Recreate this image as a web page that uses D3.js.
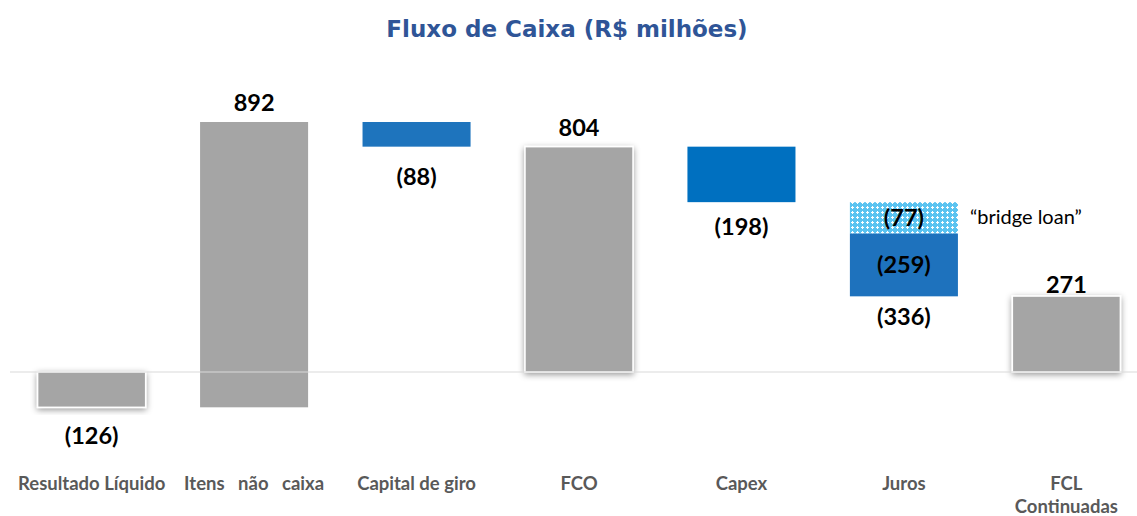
<!DOCTYPE html>
<html>
<head>
<meta charset="utf-8">
<script src="https://cdn.jsdelivr.net/npm/d3@7.9.0/dist/d3.min.js"></script>
<style>
  body { margin: 0; background: #fff; }
</style>
</head>
<body>
<div id="chart"></div>
<script>
// categories and values (R$ milhões)
const categories = ["Resultado Líquido", "Itens não caixa", "Capital de giro", "FCO", "Capex", "Juros", "FCL Continuadas"];
const values = [-126, 892, -88, 804, -198, -336, 271];
const barType = ["total", "step", "step", "total", "step", "step", "total"];
const valueLabels = ["(126)", "892", "(88)", "804", "(198)", "(336)", "271"];
// Juros split as drawn: bridge loan part and the rest
const jurosParts = [112, 224];
const jurosLabels = ["(77)", "(259)"];

const W = 1137, H = 516;
const svg = d3.select("#chart").append("svg")
    .attr("width", W).attr("height", H);

const defs = svg.append("defs");
const shadow = defs.append("filter").attr("id", "shadow")
    .attr("x", "-20%").attr("y", "-20%").attr("width", "140%").attr("height", "140%");
shadow.append("feDropShadow").attr("dx", 0).attr("dy", 2).attr("stdDeviation", 3)
    .attr("flood-color", "#000").attr("flood-opacity", 0.4);

const pat = defs.append("pattern").attr("id", "hatch")
    .attr("patternUnits", "userSpaceOnUse").attr("width", 5).attr("height", 5);
pat.append("rect").attr("width", 5).attr("height", 5).attr("fill", "#5ac3f0");
pat.append("rect").attr("x", 1).attr("y", 2).attr("width", 3).attr("height", 1).attr("fill", "#fff");
pat.append("rect").attr("x", 2).attr("y", 1).attr("width", 1).attr("height", 3).attr("fill", "#fff");

// waterfall spans as they are drawn in the picture
let running = 0;
const bars = categories.map((c, i) => {
  const v = values[i];
  let y0, y1;
  if (barType[i] === "total") {
    y0 = 0; y1 = v; running = v;
  } else if (i === 1) {
    // starts from the bottom of "Resultado Líquido"
    y0 = values[0]; y1 = v; running = v;
  } else {
    y0 = running; y1 = running + v; running = running + v;
  }
  return {cat: c, v, y0, y1, i};
});

const x = d3.scaleBand().domain(categories).range([10, 1148]).paddingInner(0.335).paddingOuter(0.17);
const y = d3.scaleLinear().domain([0, 892]).range([372, 122]);

const colors = ["#a5a5a5", "#a5a5a5", "#1e74bd", "#a5a5a5", "#0070c0", "#1e72bd", "#a5a5a5"];
// label nudges (px) relative to bar edge
const labelGap = [37, 11, 38, 11, 33, 29, 3];

// title
svg.append("text")
    .attr("x", 567).attr("y", 37)
    .attr("text-anchor", "middle")
    .style("font-family", "'DejaVu Sans', sans-serif")
    .style("font-weight", "bold")
    .style("font-size", "23px")
    .style("fill", "#2f5597")
    .text("Fluxo de Caixa (R$ milhões)");

const g = svg.append("g");

bars.forEach(d => {
  const top = y(Math.max(d.y0, d.y1));
  const bot = y(Math.min(d.y0, d.y1));
  if (d.cat === "Juros") {
    const yTop = y(d.y0);
    const yMid = y(d.y0 - jurosParts[0]);
    const yBot = y(d.y0 - jurosParts[0] - jurosParts[1]);
    g.append("rect").attr("x", x(d.cat)).attr("width", x.bandwidth())
        .attr("y", yTop).attr("height", yMid - yTop).attr("fill", "url(#hatch)");
    g.append("rect").attr("x", x(d.cat)).attr("width", x.bandwidth())
        .attr("y", yMid).attr("height", yBot - yMid).attr("fill", colors[d.i]);
    return;
  }
  const r = g.append("rect").attr("x", x(d.cat)).attr("width", x.bandwidth())
      .attr("y", top).attr("height", bot - top).attr("fill", colors[d.i]);
  if (barType[d.i] === "total") {
    r.attr("stroke", "#fff").attr("stroke-width", 1.5).attr("filter", "url(#shadow)");
  }
});

// baseline
svg.append("line").attr("x1", 10).attr("x2", W).attr("y1", y(0)).attr("y2", y(0))
    .attr("stroke", "#d9d9d9").attr("stroke-width", 1.2);

// value labels
const lab = svg.append("g")
    .style("font-family", "Lato, 'Open Sans', sans-serif")
    .style("font-weight", "bold")
    .style("font-size", "23.5px")
    .style("fill", "#000")
    .attr("text-anchor", "middle");

bars.forEach(d => {
  const cx = x(d.cat) + x.bandwidth() / 2;
  const top = y(Math.max(d.y0, d.y1));
  const bot = y(Math.min(d.y0, d.y1));
  const ly = d.v >= 0 ? top - labelGap[d.i] : bot + labelGap[d.i];
  lab.append("text").attr("x", cx).attr("y", ly).text(valueLabels[d.i]);
  if (d.cat === "Juros") {
    const yTop = y(d.y0);
    const yMid = y(d.y0 - jurosParts[0]);
    const yBot = y(d.y0 - jurosParts[0] - jurosParts[1]);
    lab.append("text").attr("x", cx).attr("y", (yTop + yMid) / 2 + 8).text(jurosLabels[0]);
    lab.append("text").attr("x", cx).attr("y", (yMid + yBot) / 2 + 8).text(jurosLabels[1]);
    svg.append("text").attr("x", x(d.cat) + x.bandwidth() + 12).attr("y", (yTop + yMid) / 2 + 6)
        .style("font-family", "Lato, 'Open Sans', sans-serif")
        .style("font-size", "20px").style("fill", "#000")
        .text("\u201Cbridge loan\u201D");
  }
});

// category labels
const catG = svg.append("g")
    .style("font-family", "Lato, 'Open Sans', sans-serif")
    .style("font-weight", "bold")
    .style("font-size", "18.5px")
    .style("fill", "#595959")
    .attr("text-anchor", "middle");
const catLines = [["Resultado Líquido"], ["Itens   não   caixa"], ["Capital de giro"], ["FCO"], ["Capex"], ["Juros"], ["FCL", "Continuadas"]];
categories.forEach((c, i) => {
  const cx = x(c) + x.bandwidth() / 2;
  const t = catG.append("text").attr("x", cx).attr("y", 490).style("white-space", "pre");
  catLines[i].forEach((l, j) => {
    t.append("tspan").attr("x", cx).attr("dy", j === 0 ? 0 : 23).text(l);
  });
});
</script>
</body>
</html>
